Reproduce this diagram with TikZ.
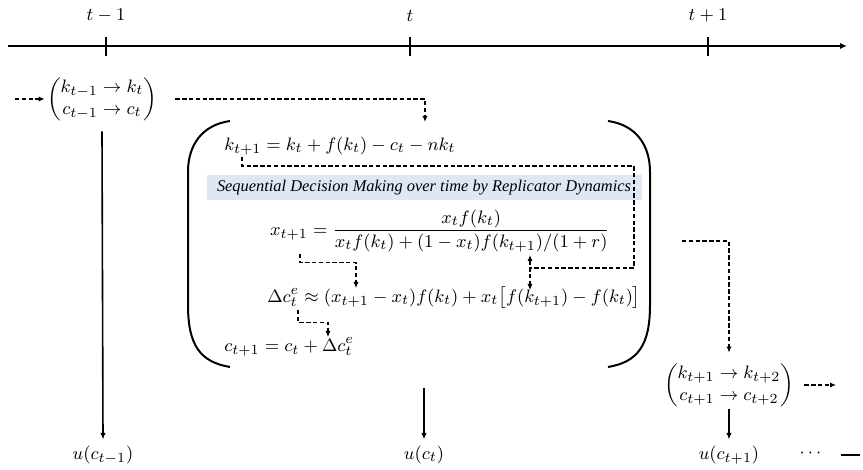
\documentclass[tikz,border=0pt]{standalone}
\usepackage{amsmath}
\usepackage{fontspec}
\newfontfamily\bannerfont{Liberation Serif}
\usetikzlibrary{
    arrows.meta,
    positioning,
    calc
}
\definecolor{bannerblue}{RGB}{221, 232, 244}

\tikzset{
    axis/.style={line width=1pt},
    bracket/.style={line width=1pt},
    dashline/.style={line width=0.6pt, dash pattern=on 2.2pt off 1.2pt},
    dasharrow/.style={dashline, -{Latex[length=3pt, width=2.6pt]}},
    solidarrow/.style={line width=0.8pt, -{Latex[length=3.4pt, width=2.8pt]}},
    eqnode/.style={inner sep=1pt, font=\fontsize{9.3}{11}\selectfont},
    banner/.style={fill=bannerblue, inner sep=0pt, minimum width=217.5pt,
        minimum height=12.5pt, font=\bannerfont\itshape\fontsize{8.2}{10}\selectfont}
}

\begin{document}
\begin{tikzpicture}[x=0.5pt, y=-0.5pt]
    \useasboundingbox (0,0) rectangle (863,470);

    % time axis
    \draw[axis, -{Latex[length=3.4pt, width=3pt]}] (8,46) -- (847,46);
    \draw[axis] (106,37) -- (106,56);
    \draw[axis] (410,37) -- (410,56);
    \draw[axis] (708,37) -- (708,56);
    \node[eqnode] (tPrev) at (106,16) {$t-1$};
    \node[eqnode] (tNow) at (410,16) {$t$};
    \node[eqnode] (tNext) at (708,16) {$t+1$};

    % state at t-1
    \node[eqnode] (leftBox) at (102,99)
        {$\begin{pmatrix} k_{t-1}\to k_t\\ c_{t-1}\to c_t \end{pmatrix}$};
    \coordinate (inStart) at (15,99);
    \draw[dasharrow] (inStart) -- (leftBox.west);

    % dynamics at t
    \draw[bracket] (230,121) .. controls (202,125) and (188,145) .. (188,172)
        -- (188,305) .. controls (188,345) and (200,362) .. (230,367);
    \draw[bracket] (608,121) .. controls (636,125) and (650,145) .. (650,172)
        -- (650,305) .. controls (650,345) and (638,362) .. (608,367);

    \node[eqnode, anchor=west] (kEq) at (222,146) {$k_{t+1} = k_t + f(k_t) - c_t - nk_t$};
    \node[banner] (banner) at (424,188) {Sequential Decision Making over time by Replicator Dynamics};
    \node[eqnode] (xEq) at (440,231)
        {$x_{t+1} = \dfrac{x_t f(k_t)}{x_t f(k_t) + (1-x_t) f(k_{t+1})/(1+r)}$};
    \node[eqnode] (dEq) at (454,298)
        {$\Delta c_t^e \approx (x_{t+1}-x_t) f(k_t) + x_t\bigl[f(k_{t+1}) - f(k_t)\bigr]$};
    \node[eqnode, anchor=west] (cEq) at (222,347) {$c_{t+1} = c_t + \Delta c_t^e$};

    \coordinate (kTop) at (425,122);
    \draw[dasharrow] ($(leftBox.east)+(16,0)$) -| (kTop);

    \coordinate (kSrc) at (242,157);
    \coordinate (kTurn) at (634,166);
    \coordinate (fTurn) at (530,268);
    \coordinate (fUp) at (530,255);
    \coordinate (fDown) at (530,290);
    \draw[dashline] (kSrc) |- (kTurn) |- (fTurn);
    \draw[dasharrow, {Latex[length=3pt, width=2.6pt]}-{Latex[length=3pt, width=2.6pt]}] (fUp) -- (fDown);

    \coordinate (xSrc) at (300,254);
    \coordinate (xDst) at (356,288);
    \draw[dasharrow] (xSrc) |- ($(xSrc)!0.25!(xDst)$) -| (xDst);

    \coordinate (dSrc) at (298,310);
    \coordinate (dDst) at (328,337);
    \draw[dasharrow] (dSrc) |- ($(dSrc)!0.45!(dDst)$) -| (dDst);

    % state at t+1
    \node[eqnode] (rightBox) at (729,385)
        {$\begin{pmatrix} k_{t+1}\to k_{t+2}\\ c_{t+1}\to c_{t+2} \end{pmatrix}$};
    \coordinate (rStart) at (682,241);
    \draw[dasharrow] (rStart) -| ([yshift=4]rightBox.north);
    \coordinate (rOut) at (836,385);
    \draw[dasharrow] ([xshift=4]rightBox.east) -- (rOut);

    % utilities
    \node[eqnode] (uPrev) at (103,455) {$u(c_{t-1})$};
    \node[eqnode] (uNow) at (424,455) {$u(c_t)$};
    \node[eqnode] (uNext) at (729,455) {$u(c_{t+1})$};
    \node[eqnode] (dots) at (812,453) {$\cdots$};
    \coordinate (midStart) at (424,388);
    \coordinate (tailEnd) at (860,455);
    \draw[solidarrow] ([yshift=-4]leftBox.south) -- ([yshift=2]uPrev.north);
    \draw[solidarrow] (midStart) -- ([yshift=2]uNow.north);
    \draw[solidarrow] (rightBox.south) -- ([yshift=2]uNext.north);
    \draw[axis] ($(dots.east)+(14,2)$) -- (tailEnd);
\end{tikzpicture}
\end{document}
